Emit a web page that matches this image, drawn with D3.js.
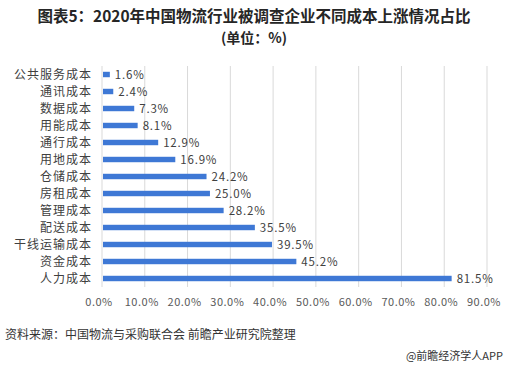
<!doctype html>
<html lang="zh">
<head>
  <meta charset="UTF-8">
  <title>2020年中国物流行业被调查企业不同成本上涨情况占比</title>
  <style type="text/css">
    body { margin: 0; background: #fff; }
    text { font-family: "Noto Sans CJK SC", "Noto Sans", sans-serif; }
  </style>
  <script src="https://cdn.jsdelivr.net/npm/d3@7/dist/d3.min.js"></script>
</head>
<body>
  <div id="container"></div>
  <script>
    var categories = ['公共服务成本', '通讯成本', '数据成本', '用能成本', '通行成本', '用地成本', '仓储成本',
      '房租成本', '管理成本', '配送成本', '干线运输成本', '资金成本', '人力成本'];
    var values = [1.6, 2.4, 7.3, 8.1, 12.9, 16.9, 24.2, 25.0, 28.2, 35.5, 39.5, 45.2, 81.5];
    var xTicks = [0, 10, 20, 30, 40, 50, 60, 70, 80, 90];

    var width = 508, height = 369,
      margin = { left: 102, top: 66, right: 21, bottom: 82 };

    var svg = d3.select('#container').append('svg').attr('width', width).attr('height', height);

    // 标题
    svg.append('text').attr('x', 254).attr('y', 22).attr('text-anchor', 'middle')
      .attr('font-size', 15.5).attr('font-weight', 'bold').attr('fill', '#262626')
      .text('图表5：2020年中国物流行业被调查企业不同成本上涨情况占比');
    svg.append('text').attr('x', 254).attr('y', 43).attr('text-anchor', 'middle')
      .attr('font-size', 14).attr('font-weight', 'bold').attr('fill', '#262626')
      .text('(单位：%)');

    var x = d3.scaleLinear().domain([0, 90]).range([margin.left, width - margin.right]);
    var y = d3.scaleBand().domain(categories).range([margin.top, height - margin.bottom]).paddingInner(0.68).paddingOuter(0.34);

    // 网格线
    svg.append('g').selectAll('line').data(xTicks).enter().append('line')
      .attr('x1', d => x(d)).attr('x2', d => x(d))
      .attr('y1', margin.top).attr('y2', height - margin.bottom)
      .attr('stroke', '#d9d9d9').attr('stroke-width', 1);

    // x轴刻度
    svg.append('g').selectAll('text').data(xTicks).enter().append('text')
      .attr('x', d => x(d) - 3).attr('y', 306).attr('text-anchor', 'middle')
      .attr('font-size', 11).attr('fill', '#595959').attr('letter-spacing', 0.5)
      .text(d => d.toFixed(1) + '%');

    // 类别标签
    svg.append('g').selectAll('text').data(categories).enter().append('text')
      .attr('x', margin.left - 10).attr('y', d => y(d) + y.bandwidth() / 2).attr('dy', '0.36em')
      .attr('text-anchor', 'end').attr('font-size', 12).attr('letter-spacing', 1).attr('fill', '#404040')
      .text(d => d);

    // 条形
    svg.append('g').selectAll('rect').data(values).enter().append('rect')
      .attr('x', x(0) + 1).attr('y', (d, i) => y(categories[i]))
      .attr('width', d => x(d) - x(0)).attr('height', y.bandwidth())
      .attr('fill', '#3e78d5');

    // 数值标签
    svg.append('g').selectAll('text').data(values).enter().append('text')
      .attr('x', d => x(d) + 6).attr('y', (d, i) => y(categories[i]) + y.bandwidth() / 2).attr('dy', '0.36em')
      .attr('font-size', 11.5).attr('fill', '#404040').attr('letter-spacing', 0.8)
      .text(d => d.toFixed(1) + '%');

    // 资料来源
    svg.append('text').attr('x', 5).attr('y', 339).attr('font-size', 12).attr('fill', '#333')
      .text('资料来源：中国物流与采购联合会 前瞻产业研究院整理');
    svg.append('text').attr('x', 503).attr('y', 360).attr('text-anchor', 'end')
      .attr('font-size', 11).attr('fill', '#333')
      .text('@前瞻经济学人APP');
  </script>
</body>
</html>
